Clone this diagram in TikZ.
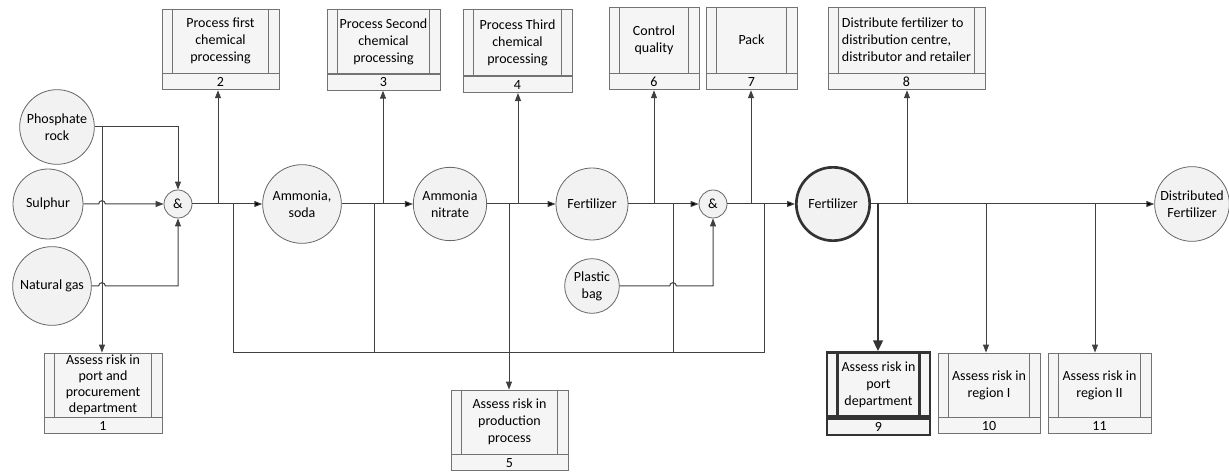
\documentclass[tikz,border=0pt]{standalone}
\usepackage{fontspec}
\setmainfont{Carlito}
\usetikzlibrary{positioning,arrows.meta}

\begin{document}
\begin{tikzpicture}[x=0.75pt,y=-0.75pt,
        font=\fontsize{10.5}{12.75}\selectfont,
        line/.style={draw=black!75, line width=0.75pt},
        >={Triangle[length=6pt,width=4.5pt]},
        state/.style={circle, draw=black!60, fill=black!5, line width=0.6pt, inner sep=0pt, align=center},
        gate/.style={state, minimum size=21pt},
        procinner/.style={draw=black!55, line width=0.6pt},
        proc/.style={draw=black!55, fill=black!4, line width=0.6pt, inner sep=0pt, align=center, minimum height=48pt,
            path picture={\draw[procinner]
                ([xshift=8pt]path picture bounding box.north west) -- ([xshift=8pt]path picture bounding box.south west)
                ([xshift=-8pt]path picture bounding box.north east) -- ([xshift=-8pt]path picture bounding box.south east);}},
        num/.style={draw=black!55, fill=black!4, line width=0.6pt, inner sep=0pt, minimum height=12pt},
        bold/.style={draw=black!80, line width=2pt, procinner/.style={draw=black!80, line width=2pt}}
    ]
    \useasboundingbox (0,0) rectangle (1229,473);

    % inputs and states
    \node (phos) [state, minimum size=56pt] at (57,127) {Phosphate\\rock};
    \node (sul) [state, minimum size=52.5pt] at (48,204) {Sulphur};
    \node (gas) [state, minimum size=59pt] at (52,286) {Natural gas};
    \node (and1) [gate] at (178,204) {\&};
    \node (amso) [state, minimum size=59pt] at (302,204) {Ammonia,\\soda};
    \node (amni) [state, minimum size=55pt] at (450,204) {Ammonia\\nitrate};
    \node (fert1) [state, minimum size=54pt] at (592,204) {Fertilizer};
    \node (and2) [gate] at (713,204) {\&};
    \node (bag) [state, minimum size=41pt] at (592,286) {Plastic\\bag};
    \node (fert2) [state, minimum size=55pt, draw=black!80, line width=2pt] at (833,204) {Fertilizer};
    \node (dist) [state, minimum size=56pt] at (1192,204) {Distributed\\Fertilizer};

    % processes
    \node (p1) [proc, minimum width=88.5pt, font=\fontsize{10.5}{12}\selectfont] at (103,385) {Assess risk in\\port and\\procurement\\department};
    \node (p1n) [num, minimum width=88.5pt, below=0pt of p1] {1};
    \node (p2) [proc, minimum width=87.75pt] at (220.5,41) {Process first\\chemical\\processing};
    \node (p2n) [num, minimum width=87.75pt, below=0pt of p2] {2};
    \node (p3) [proc, minimum width=84.75pt] at (383.5,41.5) {Process Second\\chemical\\processing};
    \node (p3n) [num, minimum width=84.75pt, below=0pt of p3] {3};
    \node (p4) [proc, minimum width=81.75pt, minimum height=50pt] at (517.5,42.5) {Process Third\\chemical\\processing};
    \node (p4n) [num, minimum width=81.75pt, below=0pt of p4] {4};
    \node (p5) [proc, minimum width=87.75pt] at (509.5,422) {Assess risk in\\production\\process};
    \node (p5n) [num, minimum width=87.75pt, below=0pt of p5] {5};
    \node (p6) [proc, minimum width=67.5pt, minimum height=49.5pt] at (654,40) {Control\\quality};
    \node (p6n) [num, minimum width=67.5pt, below=0pt of p6] {6};
    \node (p7) [proc, minimum width=68.25pt, minimum height=49.5pt] at (751.5,40) {Pack};
    \node (p7n) [num, minimum width=68.25pt, below=0pt of p7] {7};
    \node (p8) [proc, minimum width=117.75pt, minimum height=49.5pt, align=left] at (906.5,40) {Distribute fertilizer to\\distribution centre,\\distributor and retailer};
    \node (p8n) [num, minimum width=117.75pt, below=0pt of p8] {8};
    \node (p9) [proc, bold, minimum width=77.25pt] at (878.5,384.5) {Assess risk in\\port\\department};
    \node (p9n) [num, bold, minimum width=77.25pt, below=0pt of p9] {9};
    \node (p10) [proc, minimum width=76.5pt] at (989,385) {Assess risk in\\region I};
    \node (p10n) [num, minimum width=76.5pt, below=0pt of p10] {10};
    \node (p11) [proc, minimum width=77.25pt] at (1099.5,385) {Assess risk in\\region II};
    \node (p11n) [num, minimum width=77.25pt, below=0pt of p11] {11};

    % junctions on the main line and on the return line
    \coordinate (j0) at (102,127);
    \coordinate (j1) at (218,204);
    \coordinate (j2) at (233,204);
    \coordinate (j3) at (374,204);
    \coordinate (j4) at (383,204);
    \coordinate (j5) at (509,204);
    \coordinate (j6) at (518,204);
    \coordinate (j7) at (654,204);
    \coordinate (j8) at (673,204);
    \coordinate (j9) at (751,204);
    \coordinate (j10) at (764,204);
    \coordinate (j11) at (878,204);
    \coordinate (j12) at (907,204);
    \coordinate (j13) at (986,204);
    \coordinate (j14) at (1095,204);
    \coordinate (b1) at (233,353);
    \coordinate (b4) at (764,353);

    % inputs to the first gate
    \draw [line,->] (phos.east) -| (and1.north);
    \draw [line,->] (j0) -- (j0 |- p1.north);
    \draw [line,->] (sul.east) -- ([xshift=-2.5pt]sul.east -| j0) arc[start angle=180,end angle=0,radius=2.5pt] -- (and1.west);
    \draw [line,->] (gas.east) -- ([xshift=-2.5pt]gas.east -| j0) arc[start angle=180,end angle=0,radius=2.5pt]
        -- (gas.east -| and1.south) -- (and1.south);

    % main line
    \path [line,->]
        (and1) edge (amso)
        (amso) edge (amni)
        (amni) edge (fert1)
        (fert1) edge (and2)
        (and2) edge (fert2)
        (fert2) edge (dist)
    ;
    \draw [line,->] (bag.east) -- ([xshift=-2.5pt]bag.east -| j8) arc[start angle=180,end angle=0,radius=2.5pt]
        -- (bag.east -| and2.south) -- (and2.south);

    % branches up
    \draw [line,->] (j1) -- (j1 |- p2n.south);
    \draw [line,->] (j4) -- (j4 |- p3n.south);
    \draw [line,->] (j6) -- (j6 |- p4n.south);
    \draw [line,->] (j7) -- (j7 |- p6n.south);
    \draw [line,->] (j9) -- (j9 |- p7n.south);
    \draw [line,->] (j12) -- (j12 |- p8n.south);

    % branches down
    \draw [line] (j2) -- (b1) -- (b4) -- (j10);
    \draw [line] (j3) -- (j3 |- b1);
    \draw [line] (j8) -- (j8 |- b1);
    \draw [line,->] (j5) -- (j5 |- p5.north);
    \draw [line,->] (j13) -- (j13 |- p10.north);
    \draw [line,->] (j14) -- (j14 |- p11.north);
    \draw [line, draw=black!80, line width=2pt, ->, >={Triangle[length=8pt,width=7pt]}] ([yshift=1pt]j11) -- (j11 |- p9.north);
\end{tikzpicture}
\end{document}
